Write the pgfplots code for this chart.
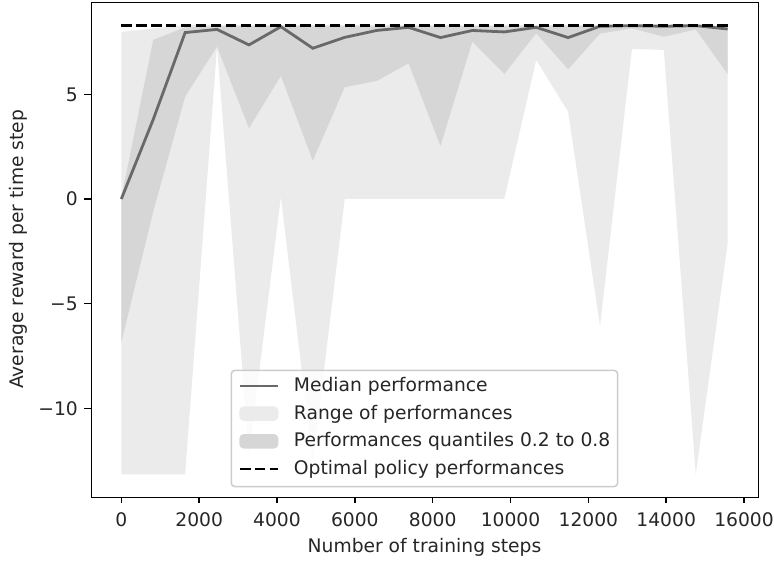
\documentclass[border=0pt]{standalone}
\usepackage{fontspec}
\setmainfont{DejaVu Sans}
\usepackage{pgfplots}
\usepackage{pgfplotstable}
\usepgfplotslibrary{fillbetween}
\pgfplotsset{compat=1.18}
\definecolor{lightfill}{RGB}{235,235,235}
\definecolor{darkfill}{RGB}{214,214,214}
\definecolor{medline}{RGB}{105,105,105}
\definecolor{legedge}{RGB}{204,204,204}
\newcommand{\fs}{\fontsize{18.7}{22.4}\selectfont}

\pgfplotstableread{
x      rlo     qlo    med   qhi   rhi
0      -13.15  -6.85  0.00  0.05  7.98
820    -13.15  -0.60  3.80  7.60  8.15
1640   -13.15   4.89  7.95  8.20  8.30
2460     7.28   7.28  8.10  8.25  8.30
3280   -12.20   3.38  7.36  8.25  8.30
4100     0.10   5.88  8.23  8.27  8.30
4920   -12.60   1.83  7.20  8.25  8.30
5740     0.00   5.34  7.72  8.25  8.30
6560     0.00   5.64  8.05  8.25  8.30
7380     0.00   6.48  8.20  8.25  8.30
8200     0.00   2.53  7.71  8.25  8.30
9020     0.00   7.52  8.05  8.25  8.30
9840     0.00   5.97  7.98  8.25  8.30
10660    6.64   7.92  8.20  8.25  8.30
11480    4.17   6.20  7.71  8.25  8.30
12300   -6.07   7.90  8.25  8.27  8.30
13120    7.17   8.15  8.28  8.28  8.30
13940    7.12   7.75  8.25  8.28  8.30
14760  -13.15   8.10  8.28  8.28  8.30
15580   -2.12   5.97  8.12  8.20  8.30
}\perf

\begin{document}
\begin{tikzpicture}
\begin{axis}[
  at={(0pt,0pt)}, anchor=south west,
  scale only axis, width=667pt, height=494.7pt,
  xmin=-779, xmax=16359, ymin=-14.22, ymax=9.41,
  line width=1.5pt,
  tick align=outside, major tick length=6.5pt,
  major tick style={line width=1.5pt, black},
  xtick pos=left, ytick pos=left,
  xtick={0,2000,4000,6000,8000,10000,12000,14000,16000},
  xticklabels={0,2000,4000,6000,8000,10000,12000,14000,16000},
  ytick={-10,-5,0,5},
  yticklabels={−10,−5,0,5},
  scaled x ticks=false,
  tick label style={font=\fs, text=black!85},
  xticklabel style={anchor=base, inner sep=0pt, yshift=-22.9pt},
  yticklabel style={anchor=east, inner sep=0pt, xshift=-6.5pt},
  xlabel={Number of training steps},
  ylabel={Average reward per time step},
  label style={font=\fs, text=black!85},
  xlabel style={at={(axis description cs:0.5,-0.1118)}, anchor=base, inner sep=0pt},
  ylabel style={at={(axis description cs:-0.1009,0.5)}, anchor=base, inner sep=0pt},
  legend style={at={(0.5,0.0189)}, anchor=south, font=\fs, text=black!85,
    draw=legedge, line width=1.5pt, fill=white, fill opacity=0.8, text opacity=1,
    rounded corners=3.7pt, inner xsep=7.5pt, inner ysep=7.5pt,
    row sep=9.35pt, column sep=15pt,
    nodes={inner sep=0pt, text height=13.7pt, text depth=4.6pt}},
  legend cell align=left,
]
\addplot[name path=rhi, draw=none, forget plot] table[x=x, y=rhi]{\perf};
\addplot[name path=rlo, draw=none, forget plot] table[x=x, y=rlo]{\perf};
\addplot[lightfill, forget plot] fill between[of=rhi and rlo];
\addplot[name path=qhi, draw=none, forget plot] table[x=x, y=qhi]{\perf};
\addplot[name path=qlo, draw=none, forget plot] table[x=x, y=qlo]{\perf};
\addplot[darkfill, forget plot] fill between[of=qhi and qlo];

\addlegendimage{legend image code/.code={\draw[medline, line width=2.8pt, draw opacity=1] (0pt,1pt) -- (37.4pt,1pt);}}
\addlegendentry{Median performance}
\addlegendimage{legend image code/.code={\fill[lightfill, fill opacity=1] (0pt,-5.5pt) rectangle (37.4pt,7.5pt);}}
\addlegendentry{Range of performances}
\addlegendimage{legend image code/.code={\fill[darkfill, fill opacity=1] (0pt,-5.5pt) rectangle (37.4pt,7.5pt);}}
\addlegendentry{Performances quantiles 0.2 to 0.8}
\addlegendimage{legend image code/.code={\draw[black, line width=2.8pt, draw opacity=1, dash pattern=on 10.4pt off 4.5pt] (0pt,1pt) -- (37.4pt,1pt);}}
\addlegendentry{Optimal policy performances}

\addplot[medline, line width=2.8pt, forget plot] table[x=x, y=med]{\perf};
\addplot[black, line width=2.8pt, dash pattern=on 10.4pt off 4.5pt, forget plot] coordinates {(0,8.3) (15580,8.3)};
\end{axis}
\pgfresetboundingbox
\path[use as bounding box] (-91pt,-63.3pt) rectangle (683pt,496.7pt);
\end{tikzpicture}
\end{document}
